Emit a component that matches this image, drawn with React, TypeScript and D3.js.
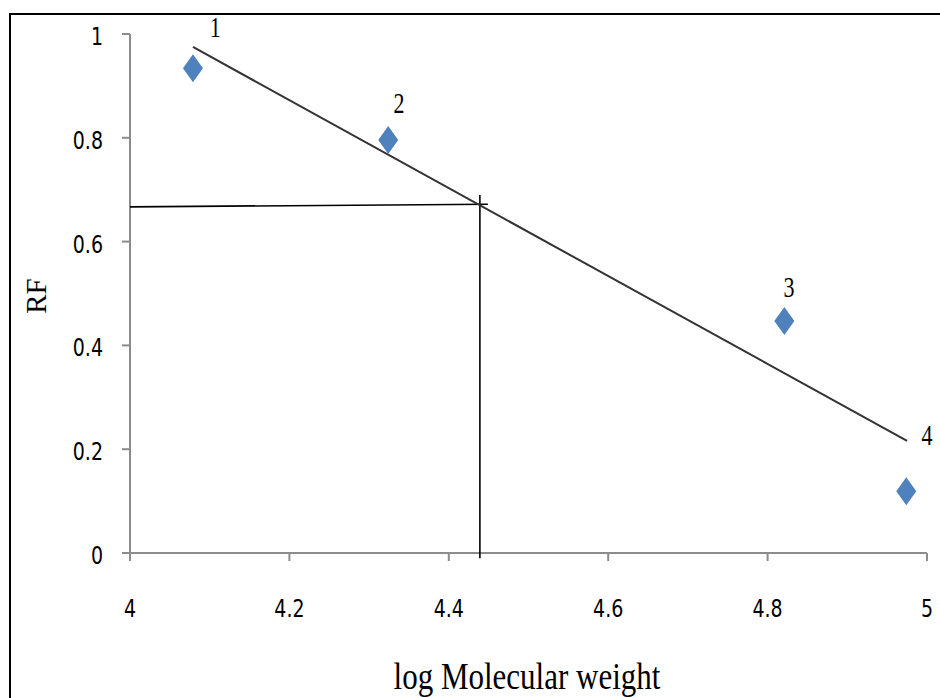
import React from "react";
import * as d3 from "d3";

const xTicks = [4, 4.2, 4.4, 4.6, 4.8, 5];
const yTicks = [0, 0.2, 0.4, 0.6, 0.8, 1];
const logMW = [4.079, 4.324, 4.821, 4.974];
const rf = [0.934, 0.796, 0.447, 0.119];
const pointLabels = ["1", "2", "3", "4"];
const labelX = [4.107, 4.3375, 4.827, 5.0];
const labelY = [1.012, 0.867, 0.5125, 0.227];
const trendX = [4.079, 4.975];
const trendY = [0.975, 0.216];
const refHX = [4, 4.449];
const refHY = [0.667, 0.672];
const refVX = [4.439, 4.439];
const refVY = [0.69, -0.01];

const W = 940;
const H = 698;

export default function App() {
  const x = d3.scaleLinear().domain([4, 5]).range([130, 927]);
  const y = d3.scaleLinear().domain([0, 1]).range([553, 34]);
  const line = d3
    .line<[number, number]>()
    .x((d) => x(d[0]))
    .y((d) => y(d[1]));
  const zip = (a: number[], b: number[]) => a.map((v, i) => [v, b[i]] as [number, number]);
  const axisColor = "#8c8c8c";
  const sans = "'DejaVu Sans', Verdana, sans-serif";
  const serif = "'Liberation Serif', 'Times New Roman', serif";

  return (
    <svg
      width={W}
      height={H}
      style={{ position: "absolute", left: 0, top: 0, background: "#fff" }}
    >
      <rect x={0} y={0} width={W} height={H} fill="#fff" />
      {/* frame */}
      <rect x={10} y={14} width={W + 20} height={H + 20} fill="none" stroke="#000" strokeWidth={2} />

      {/* y axis */}
      <line x1={x(4)} x2={x(4)} y1={y(1)} y2={y(0)} stroke={axisColor} strokeWidth={2} />
      {yTicks.map((t) => (
        <g key={"yt" + t}>
          <line x1={x(4) - 8} x2={x(4)} y1={y(t)} y2={y(t)} stroke={axisColor} strokeWidth={2} />
          <text
            transform={`translate(103,${y(t) + 2}) scale(1,1.35)`}
            textAnchor="end"
            dominantBaseline="central"
            fontFamily={sans}
            fontSize={19}
            fill="#000"
          >
            {d3.format("~g")(t)}
          </text>
        </g>
      ))}

      {/* x axis */}
      <line x1={x(4)} x2={x(5)} y1={y(0)} y2={y(0)} stroke={axisColor} strokeWidth={2} />
      {xTicks.map((t) => (
        <g key={"xt" + t}>
          <line x1={x(t)} x2={x(t)} y1={y(0)} y2={y(0) + 8} stroke={axisColor} strokeWidth={2} />
          <text
            transform={`translate(${x(t)},608) scale(1,1.35)`}
            textAnchor="middle"
            dominantBaseline="central"
            fontFamily={sans}
            fontSize={19}
            fill="#000"
          >
            {d3.format("~g")(t)}
          </text>
        </g>
      ))}

      {/* reference lines */}
      <path d={line(zip(refHX, refHY)) || ""} stroke="#000" strokeWidth={1.6} fill="none" />
      <path d={line(zip(refVX, refVY)) || ""} stroke="#000" strokeWidth={1.6} fill="none" />

      {/* trend line */}
      <path d={line(zip(trendX, trendY)) || ""} stroke="#333" strokeWidth={2} fill="none" />

      {/* points */}
      {logMW.map((v, i) => {
        const cx = x(v);
        const cy = y(rf[i]);
        return (
          <path
            key={"p" + i}
            d={`M${cx},${cy - 14}L${cx + 10},${cy}L${cx},${cy + 14}L${cx - 10},${cy}Z`}
            fill="#4F81BD"
          />
        );
      })}

      {/* point labels */}
      {pointLabels.map((l, i) => (
        <text
          key={"l" + i}
          transform={`translate(${x(labelX[i])},${y(labelY[i])}) scale(1,1.3)`}
          textAnchor="middle"
          dominantBaseline="central"
          fontFamily={serif}
          fontSize={22}
          fill="#000"
        >
          {l}
        </text>
      ))}

      {/* axis titles */}
      <text
        transform={`translate(36,296) rotate(-90)`}
        textAnchor="middle"
        dominantBaseline="central"
        fontFamily={serif}
        fontSize={29}
        fill="#000"
      >
        RF
      </text>
      <text
        transform={`translate(527,689) scale(1,1.2)`}
        textAnchor="middle"
        fontFamily={serif}
        fontSize={31}
        fill="#000"
      >
        log Molecular weight
      </text>
    </svg>
  );
}
